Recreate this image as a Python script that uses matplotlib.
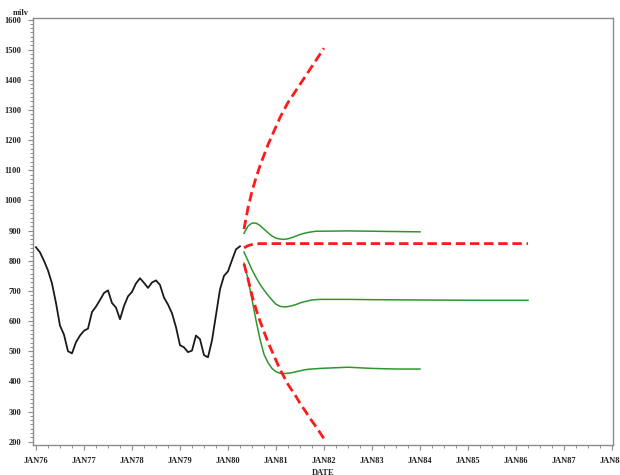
import matplotlib
matplotlib.use("Agg")
import matplotlib.pyplot as plt
from matplotlib.ticker import MultipleLocator, AutoMinorLocator

# months counted from JAN76 (0 = JAN76)
hist_month = list(range(0, 52))
hist_value = [845, 828, 800, 768, 725, 660, 585, 555, 500, 493,
              530, 552, 568, 575, 630, 648, 670, 693, 702, 660,
              645, 606, 650, 682, 697, 725, 742, 727, 710, 728,
              735, 720, 678, 655, 626, 580, 520, 513, 497, 502,
              552, 540, 487, 480, 536, 620, 705, 750, 765, 802,
              838, 848]

# point forecast and its limits (dashed)
fc_month = [52, 53, 54, 55, 56, 60, 72, 96, 123]
fc_value = [843, 850, 854, 856, 857, 857, 857, 857, 857]

band_month = list(range(52, 73))
band_upper = [905, 975, 1030, 1075, 1115, 1150, 1185, 1215, 1245, 1275,
              1300, 1325, 1345, 1365, 1385, 1405, 1425, 1445, 1465, 1485,
              1505]
band_lower = [790, 740, 685, 640, 600, 565, 530, 500, 470, 440,
              415, 390, 370, 350, 328, 308, 288, 268, 250, 230,
              210]

# simulated paths (green)
mid_month = list(range(52, 72)) + [78, 84, 96, 110, 123]
mid_value = [829, 800, 770, 745, 722, 703, 686, 670, 656, 649,
             647, 648, 651, 655, 660, 664, 667, 670, 671, 672,
             672, 671, 670, 669, 669]

hi_month = list(range(52, 72)) + [78, 84, 90, 96]
hi_value = [891, 915, 925, 925, 917, 905, 893, 882, 875, 872,
            871, 873, 877, 882, 887, 891, 894, 896, 898, 898,
            899, 898, 897, 896]

lo_month = list(range(52, 72)) + [78, 84, 90, 96]
lo_value = [792, 740, 672, 603, 540, 490, 462, 443, 432, 427,
            426, 427, 429, 432, 435, 438, 440, 441, 442, 443,
            447, 443, 441, 441]

year_labels = ["JAN76", "JAN77", "JAN78", "JAN79", "JAN80", "JAN81", "JAN82",
               "JAN83", "JAN84", "JAN85", "JAN86", "JAN87", "JAN88"]

fig = plt.figure(figsize=(6.2, 4.75), dpi=100)
ax = fig.add_axes([0.0532, 0.0625, 0.9355, 0.8995])

red = "#ff1a1a"
green = "#2f962f"
dash = (3.4, 1.7)

ax.plot(hist_month, hist_value, color="#1a1a1a", lw=1.3)
ax.plot(hi_month, hi_value, color=green, lw=1.1)
ax.plot(mid_month, mid_value, color=green, lw=1.1)
ax.plot(lo_month, lo_value, color=green, lw=1.1)
ax.plot(fc_month, fc_value, color=red, lw=2.0, dashes=dash)
ax.plot(band_month, band_upper, color=red, lw=2.0, dashes=dash)
ax.plot(band_month, band_lower, color=red, lw=2.0, dashes=dash)

ax.set_xlim(-0.75, 144.25)
ax.set_ylim(188, 1605)

ax.set_xticks(range(0, 145, 12))
ax.set_xticklabels(year_labels)
ax.xaxis.set_minor_locator(MultipleLocator(3))
ax.set_yticks(range(200, 1601, 100))
ax.yaxis.set_minor_locator(AutoMinorLocator(7))

frame = "#8c8c8c"
for s in ax.spines.values():
    s.set_color(frame)
    s.set_linewidth(1.0)
ax.tick_params(which="major", length=3.5, width=0.8, color=frame, direction="out",
               labelsize=6, pad=5)
ax.tick_params(which="minor", length=2, width=0.7, color=frame, direction="out")
for lab in ax.get_xticklabels() + ax.get_yticklabels():
    lab.set_fontfamily("Liberation Serif")
    lab.set_fontweight("bold")
    lab.set_color("#222222")

fig.text(21 / 620, 1 - 13 / 475, "milv", ha="center", va="center", fontsize=6,
         fontfamily="Liberation Serif", fontweight="bold", color="#222222")
fig.text(323 / 620, 1 - 473 / 475, "DATE", ha="center", va="center", fontsize=6,
         fontfamily="Liberation Serif", fontweight="bold", color="#222222")

fig.savefig("out.png", dpi=100)
